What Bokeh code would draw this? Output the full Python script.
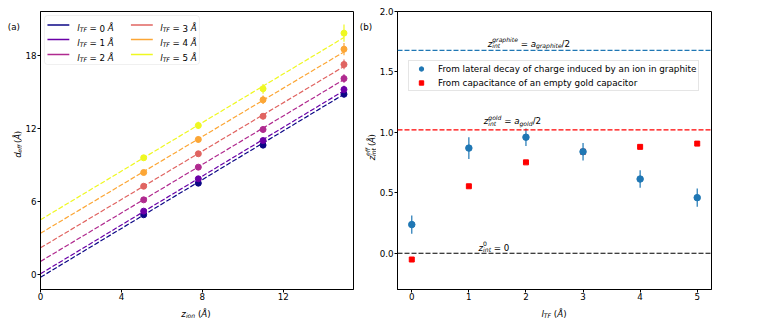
import math
from bokeh.plotting import figure
from bokeh.models import (Label, Span, Legend, LegendItem, BoxAnnotation, Arrow,
                          FixedTicker, Range1d, PrintfTickFormatter, ColumnDataSource)
from bokeh.layouts import row, column
from bokeh.embed import file_html
from bokeh.resources import INLINE
from bokeh.palettes import Plasma6

# ---------------- data: panel (a) ----------------
z_ion = [5.1, 7.8, 11.0, 15.0]
l_tf_values = [0, 1, 2, 3, 4, 5]
d_eff_l0 = [4.89, 7.49, 10.62, 14.81]
d_eff_l1 = [5.19, 7.85, 11.00, 15.20]
d_eff_l2 = [6.12, 8.81, 11.91, 16.10]
d_eff_l3 = [7.24, 9.91, 13.00, 17.26]
d_eff_l4 = [8.37, 11.09, 14.35, 18.52]
d_eff_l5 = [9.58, 12.24, 15.26, 19.84]
d_err_l0 = [0.15, 0.2, 0.2, 0.25]
d_err_l1 = [0.15, 0.2, 0.2, 0.3]
d_err_l2 = [0.15, 0.2, 0.25, 0.35]
d_err_l3 = [0.15, 0.2, 0.25, 0.4]
d_err_l4 = [0.15, 0.25, 0.35, 0.5]
d_err_l5 = [0.2, 0.3, 0.4, 0.7]
fit_intercepts = [-0.25, 0.03, 1.05, 2.17, 3.37, 4.48]
fit_slopes = [1.004, 1.005, 0.998, 0.995, 0.995, 1.0]
left_xticks = [0, 4, 8, 12]
left_yticks = [0, 6, 12, 18]

# ---------------- data: panel (b) ----------------
l_tf = [0, 1, 2, 3, 4, 5]
z_int_lateral = [0.237, 0.87, 0.96, 0.84, 0.614, 0.46]
z_int_lateral_err = [0.075, 0.09, 0.072, 0.072, 0.073, 0.075]
z_int_capacitor = [-0.052, 0.554, 0.752, 0.84, 0.88, 0.907]
z_int_graphite = 1.678
z_int_gold = 1.02
z_int_zero = 0.0
right_xticks = [0, 1, 2, 3, 4, 5]
right_yticks = [0.0, 0.5, 1.0, 1.5, 2.0]

FONT = "DejaVu Sans"
FS = 8.7
SFS = 6.1

W_EM = {' ': .318, '(': .390, ')': .390, '=': .838, '/': .337, 'Å': .684,
        'a': .613, 'b': .635, 'd': .635, 'e': .615, 'f': .352, 'g': .635, 'h': .634,
        'i': .278, 'l': .278, 'n': .634, 'o': .612, 'p': .635, 'r': .411, 't': .392,
        'z': .525, 'T': .611, 'F': .575}
for _d in "0123456789":
    W_EM[_d] = .636


def tw(s, size):
    return sum(W_EM.get(c, 0.6) for c in s) * size


class Conv:
    """page pixel -> data coordinates for one figure frame"""
    def __init__(self, L, T, W, H, xr, yr):
        self.L, self.T, self.W, self.H, self.xr, self.yr = L, T, W, H, xr, yr

    def x(self, px):
        return self.xr[0] + (px - self.L) / self.W * (self.xr[1] - self.xr[0])

    def y(self, py):
        return self.yr[1] - (py - self.T) / self.H * (self.yr[1] - self.yr[0])

    def px(self, x):
        return self.L + (x - self.xr[0]) / (self.xr[1] - self.xr[0]) * self.W

    def py(self, y):
        return self.T + (self.yr[1] - y) / (self.yr[1] - self.yr[0]) * self.H


def rich(fig, conv, px, py, parts, vertical=False, center=False):
    # parts: (text, size, italic, shift_up_px, advance or None)
    total = sum(a if a is not None else tw(t, s) for t, s, it, sh, a in parts)
    if center:
        if vertical:
            py = py + total / 2
        else:
            px = px - total / 2
    adv = 0.0
    for t, s, it, sh, a in parts:
        lead = len(t) - len(t.lstrip(" "))
        start = adv + tw(" " * lead, s)
        if vertical:
            X, Y = px - sh, py - start
        else:
            X, Y = px + start, py - sh
        fig.add_layout(Label(x=conv.x(X), y=conv.y(Y), text=t.strip(" "),
                             angle=(math.pi / 2 if vertical else 0),
                             text_font=FONT, text_font_size=f"{s}px",
                             text_font_style=("italic" if it else "normal"),
                             text_baseline="alphabetic", text_align="left",
                             text_color="black"))
        adv += a if a is not None else tw(t, s)


def style(p, xt, yt):
    for ax in (p.xaxis[0], p.yaxis[0]):
        ax.axis_label = None
        ax.major_label_text_font = FONT
        ax.major_label_text_font_size = f"{FS}px"
        ax.major_label_text_color = "black"
        ax.major_tick_out = 3
        ax.major_tick_in = 0
        ax.minor_tick_out = 0
        ax.minor_tick_in = 0
        ax.axis_line_color = "black"
        ax.major_tick_line_color = "black"
    p.xaxis[0].major_label_standoff = 0
    p.yaxis[0].major_label_standoff = 1
    p.xaxis[0].ticker = FixedTicker(ticks=xt)
    p.yaxis[0].ticker = FixedTicker(ticks=yt)
    p.xgrid.visible = False
    p.ygrid.visible = False
    p.outline_line_color = "black"
    p.outline_line_width = 1
    p.outline_line_alpha = 1.0
    p.background_fill_color = "white"
    p.border_fill_color = "white"


def strip(w, h):
    s = figure(width=w, height=h, output_backend="svg", toolbar_location=None, title=None,
               x_range=Range1d(0, w), y_range=Range1d(0, h), min_border=0,
               x_axis_type=None, y_axis_type=None)
    s.outline_line_color = None
    s.background_fill_color = "white"
    s.border_fill_color = "white"
    return s


TOP_H = 303

# ---------------- panel (a) ----------------
LXR = (0, 15.47)
LYR = (-1.26, 21.62)
pa = figure(width=333, height=TOP_H, output_backend="svg", toolbar_location=None,
            title=None, x_range=Range1d(*LXR), y_range=Range1d(*LYR),
            min_border_left=16, min_border_right=2, min_border_top=11, min_border_bottom=14)
style(pa, left_xticks, left_yticks)
ca = Conv(38, 11, 315, 278, LXR, LYR)

series = [d_eff_l0, d_eff_l1, d_eff_l2, d_eff_l3, d_eff_l4, d_eff_l5]
errors = [d_err_l0, d_err_l1, d_err_l2, d_err_l3, d_err_l4, d_err_l5]
for i, l in enumerate(l_tf_values):
    c = Plasma6[i]
    xs = [0, max(z_ion)]
    ys = [fit_intercepts[i] + fit_slopes[i] * v for v in xs]
    pa.line(xs, ys, line_color=c, line_width=1.2, line_dash="5 2")
    src = ColumnDataSource(dict(x=z_ion, y=series[i],
                                lo=[v - e for v, e in zip(series[i], errors[i])],
                                hi=[v + e for v, e in zip(series[i], errors[i])]))
    pa.segment(x0="x", y0="lo", x1="x", y1="hi", source=src, line_color=c, line_width=1.2)
    pa.scatter("x", "y", source=src, size=6, fill_color=c, line_color=c, marker="circle")

# legend (a), manual to allow subscripts
pa.add_layout(BoxAnnotation(left=ca.x(42), right=ca.x(198), top=ca.y(15), bottom=ca.y(64),
                            fill_color="white", fill_alpha=0.8, line_color="#cccccc",
                            line_width=1, border_radius=3))
row_y = [24.5, 39.0, 54.0]
for i, l in enumerate(l_tf_values):
    col, r = divmod(i, 3)
    x0 = 45 if col == 0 else 129
    tx = 75 if col == 0 else 158.5
    yy = row_y[r]
    pa.add_layout(Arrow(end=None, x_start=ca.x(x0), x_end=ca.x(x0 + 22),
                        y_start=ca.y(yy), y_end=ca.y(yy),
                        line_color=Plasma6[i], line_width=1.6))
    rich(pa, ca, tx, yy + 3.1, [("l", FS, True, 0, None), ("TF", SFS, True, -1.6, None),
                                (" = ", FS, False, 0, None), (f"{l} ", FS, False, 0, None),
                                ("Å", FS, True, 0, None)])

# ---------------- panel (b) ----------------
RXR = (-0.25, 5.25)
RYR = (-0.3, 2.0)
pb = figure(width=377, height=TOP_H, output_backend="svg", toolbar_location=None,
            title=None, x_range=Range1d(*RXR), y_range=Range1d(*RYR),
            min_border_left=20, min_border_right=42, min_border_top=11, min_border_bottom=14)
style(pb, right_xticks, right_yticks)
pb.yaxis[0].formatter = PrintfTickFormatter(format="%.1f")
cb = Conv(396, 11, 315, 278, RXR, RYR)

pb.add_layout(Span(location=z_int_graphite, dimension="width", line_color="#1f77b4",
                   line_width=1.2, line_dash="5 2"))
pb.add_layout(Span(location=z_int_gold, dimension="width", line_color="#ff0000",
                   line_width=1.2, line_dash="5 2"))
pb.add_layout(Span(location=z_int_zero, dimension="width", line_color="black",
                   line_width=1.2, line_dash="5 2"))

red = pb.scatter(l_tf, z_int_capacitor, marker="square", size=5, fill_color="#ff0000",
                 line_color="#ff0000")
bsrc = ColumnDataSource(dict(x=l_tf, y=z_int_lateral,
                             lo=[v - e for v, e in zip(z_int_lateral, z_int_lateral_err)],
                             hi=[v + e for v, e in zip(z_int_lateral, z_int_lateral_err)]))
pb.segment(x0="x", y0="lo", x1="x", y1="hi", source=bsrc, line_color="#1f77b4", line_width=1.2)
blue = pb.scatter("x", "y", source=bsrc, marker="circle", size=6.5, fill_color="#1f77b4",
                  line_color="#1f77b4")

leg = Legend(items=[LegendItem(label="From lateral decay of charge induced by an ion in graphite",
                               renderers=[blue]),
                    LegendItem(label="From capacitance of an empty gold capacitor",
                               renderers=[red])],
             location=(11, 198), padding=2, spacing=3, glyph_width=20, glyph_height=11,
             label_height=11, label_standoff=7, label_text_font=FONT,
             label_text_font_size="8.8px", label_text_color="black", margin=0,
             border_line_color="#cccccc", border_line_width=1,
             background_fill_color="white", background_fill_alpha=0.8)
pb.add_layout(leg)

# annotations (b)
gx, gy = cb.px(1.33), cb.py(1.735)
rich(pb, cb, gx, gy, [("z", FS, True, 0, None), ("graphite", SFS, True, 3.6, 0),
                      ("int", SFS, True, -2.0, tw("graphite", SFS)),
                      (" = ", FS, False, 0, None), ("a", FS, True, 0, None),
                      ("graphite", SFS, True, -1.6, None), ("/2", FS, False, 0, None)])
ax_, ay_ = cb.px(1.26), cb.py(1.09)
rich(pb, cb, ax_, ay_, [("z", FS, True, 0, None), ("gold", SFS, True, 3.6, 0),
                        ("int", SFS, True, -2.0, tw("gold", SFS)),
                        (" = ", FS, False, 0, None), ("a", FS, True, 0, None),
                        ("gold", SFS, True, -1.6, None), ("/2", FS, False, 0, None)])
zx, zy = cb.px(1.17), cb.py(0.047)
rich(pb, cb, zx, zy, [("z", FS, True, 0, None), ("0", SFS, False, 3.6, 0),
                      ("int", SFS, True, -2.0, tw("int", SFS)),
                      (" = ", FS, False, 0, None), ("0", FS, False, 0, None)])

# ---------------- label strips (outside the frames) ----------------
sa = strip(22, TOP_H)
csa = Conv(0, 0, 22, TOP_H, (0, 22), (0, TOP_H))
rich(sa, csa, 7.3, 16.5, [("(a)", FS, False, 0, None)])
rich(sa, csa, 17.8, 145, [("d", FS, True, 0, None), ("eff", SFS, True, -1.2, None),
                          (" (", FS, False, 0, None), ("Å", FS, True, 0, None),
                          (")", FS, False, 0, None)], vertical=True, center=True)

sb = strip(21, TOP_H)
csb = Conv(355, 0, 21, TOP_H, (0, 21), (0, TOP_H))
rich(sb, csb, 359.3, 16.5, [("(b)", FS, False, 0, None)])
rich(sb, csb, 371.0, 148, [("z", FS, True, 0, None), ("eff", SFS, True, 3.6, 0),
                           ("int", SFS, True, -2.0, tw("int", SFS)),
                           (" (", FS, False, 0, None), ("Å", FS, True, 0, None),
                           (")", FS, False, 0, None)], vertical=True, center=True)

BOT_H = 15
sx = strip(753, BOT_H)
csx = Conv(0, TOP_H, 753, BOT_H, (0, 753), (0, BOT_H))
rich(sx, csx, 195.5, 313.5, [("z", FS, True, 0, None), ("ion", SFS, True, -1.6, None),
                             (" (", FS, False, 0, None), ("Å", FS, True, 0, None),
                             (")", FS, False, 0, None)], center=True)
rich(sx, csx, 553.5, 313.5, [("l", FS, True, 0, None), ("TF", SFS, True, -1.6, None),
                             (" (", FS, False, 0, None), ("Å", FS, True, 0, None),
                             (")", FS, False, 0, None)], center=True)

layout = column(row(sa, pa, sb, pb), sx)
open("out.html", "w").write(file_html(layout, INLINE))
